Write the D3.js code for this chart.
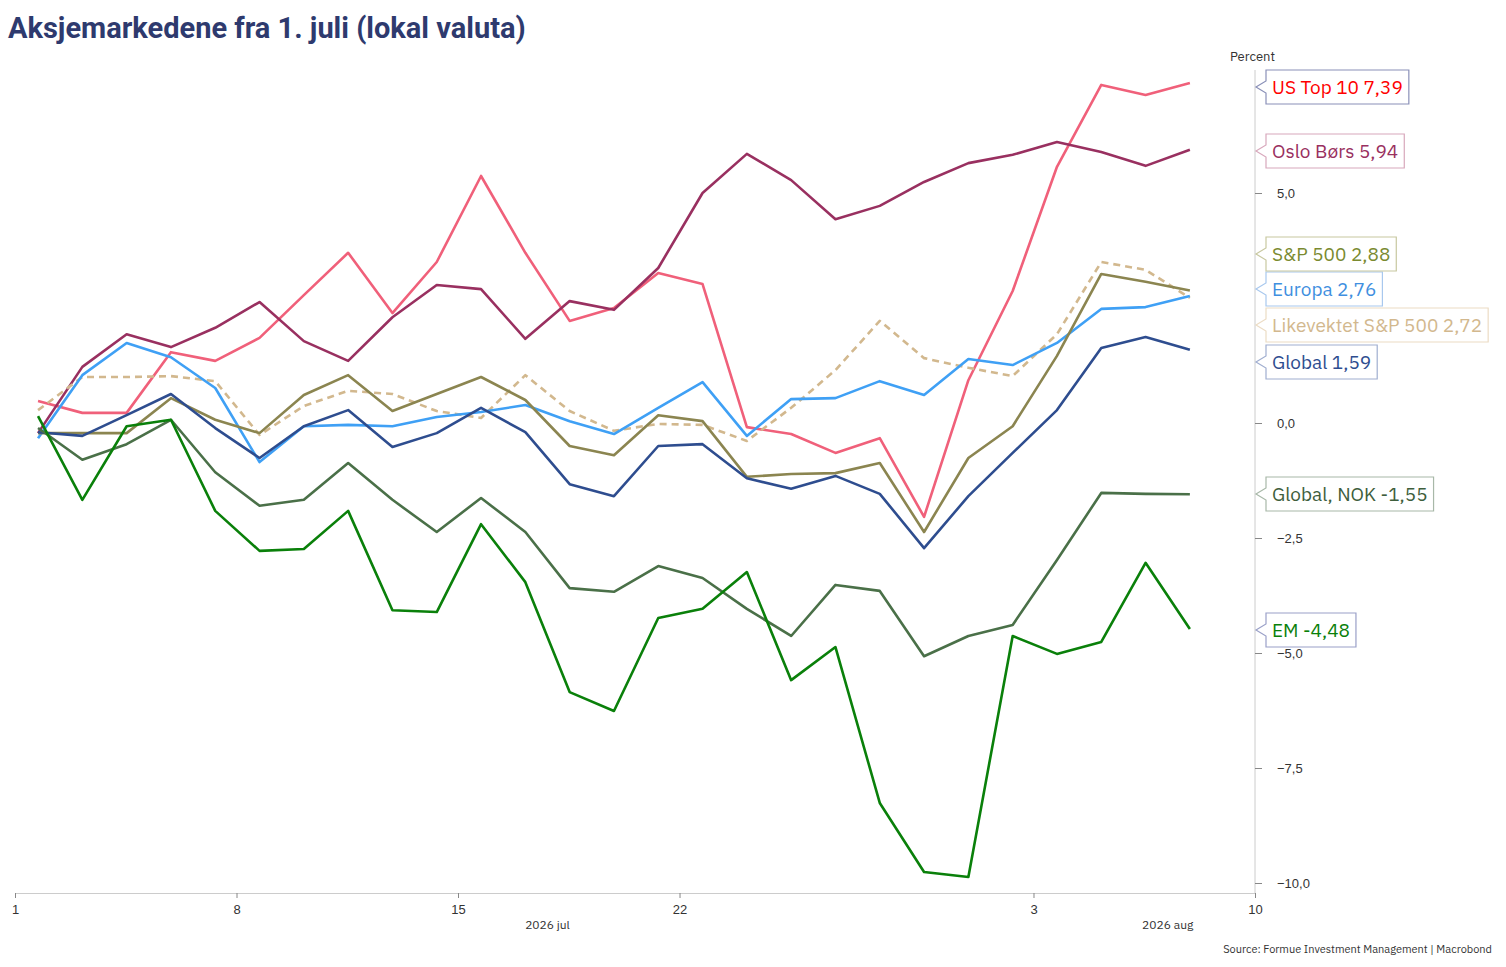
<!DOCTYPE html>
<meta charset="utf-8">
<title>Aksjemarkedene fra 1. juli</title>
<style>
    body { margin: 0; background: #fff; font-family: "IBM Plex Sans", Roboto, sans-serif; }
    svg { display: block; }
    .tick text { font-size: 13px; fill: #333; }
</style>
<body>
<svg width="1506" height="967"></svg>
<script src="https://d3js.org/d3.v7.min.js"></script>
<script>
    // trading-day index 0..26 (1. juli .. 7. aug)
    const usTop10 = [0.48, 0.22, 0.22, 1.54, 1.35, 1.85, 2.78, 3.70, 2.39, 3.50, 5.37, 3.70, 2.22, 2.50, 3.26, 3.02, -0.09, -0.24, -0.65, -0.33, -2.04, 0.93, 2.87, 5.57, 7.35, 7.13, 7.39];
    const osloBors = [-0.22, 1.22, 1.93, 1.65, 2.07, 2.63, 1.78, 1.35, 2.30, 3.0, 2.91, 1.83, 2.65, 2.46, 3.37, 5.0, 5.85, 5.28, 4.43, 4.72, 5.24, 5.65, 5.83, 6.11, 5.89, 5.59, 5.94];
    const sp500 = [-0.22, -0.22, -0.22, 0.54, 0.07, -0.22, 0.61, 1.04, 0.26, 0.63, 1.0, 0.5, -0.5, -0.7, 0.17, 0.04, -1.17, -1.11, -1.09, -0.87, -2.37, -0.76, -0.07, 1.46, 3.24, 3.07, 2.88];
    const europa = [-0.33, 1.04, 1.74, 1.43, 0.76, -0.85, -0.07, -0.04, -0.07, 0.13, 0.24, 0.39, 0.04, -0.24, 0.33, 0.89, -0.28, 0.52, 0.54, 0.91, 0.61, 1.39, 1.26, 1.74, 2.48, 2.52, 2.76];
    const likevektet = [0.28, 1.0, 1.0, 1.02, 0.91, -0.26, 0.37, 0.70, 0.63, 0.26, 0.11, 1.04, 0.26, -0.17, -0.02, -0.04, -0.39, 0.33, 1.15, 2.22, 1.41, 1.2, 1.02, 1.93, 3.5, 3.33, 2.72];
    const global = [-0.2, -0.28, 0.17, 0.63, -0.11, -0.76, -0.07, 0.28, -0.52, -0.22, 0.33, -0.2, -1.33, -1.59, -0.5, -0.46, -1.2, -1.43, -1.15, -1.54, -2.72, -1.59, -0.65, 0.28, 1.63, 1.87, 1.59];
    const globalNok = [-0.11, -0.8, -0.46, 0.07, -1.07, -1.8, -1.67, -0.87, -1.67, -2.37, -1.63, -2.37, -3.59, -3.67, -3.11, -3.37, -4.04, -4.63, -3.52, -3.65, -5.07, -4.63, -4.39, -2.98, -1.52, -1.54, -1.55];
    const em = [0.15, -1.67, -0.07, 0.07, -1.91, -2.78, -2.74, -1.91, -4.07, -4.11, -2.2, -3.46, -5.85, -6.26, -4.24, -4.04, -3.24, -5.59, -4.87, -8.26, -9.76, -9.87, -4.63, -5.02, -4.76, -3.04, -4.48];

    const xTickPos = [-0.52, 4.48, 9.48, 14.48, 22.47, 27.47];
    const xTickLabels = ["1", "8", "15", "22", "3", "10"];
    const yTicks = [-10, -7.5, -5, -2.5, 0, 5];

    const series = [
        { name: "US Top 10", values: usTop10, color: "#f0607a", text: "#ff0000", border: "#8a90b8", last: "7,39", ly: 87 },
        { name: "Oslo Børs", values: osloBors, color: "#993060", text: "#993060", border: "#d8a8bc", last: "5,94", ly: 151 },
        { name: "Likevektet S&P 500", values: likevektet, color: "#d2b88e", text: "#d2b88e", border: "#ecdcc4", last: "2,72", ly: 325, dash: "7,5" },
        { name: "Europa", values: europa, color: "#3fa0f5", text: "#3f8fe0", border: "#a8c8ee", last: "2,76", ly: 289 },
        { name: "S&P 500", values: sp500, color: "#8b8550", text: "#7a8a30", border: "#c8c8a0", last: "2,88", ly: 254 },
        { name: "Global", values: global, color: "#2e4d8f", text: "#2e4d8f", border: "#a0aed0", last: "1,59", ly: 362 },
        { name: "Global, NOK", values: globalNok, color: "#4a7048", text: "#3e5e3c", border: "#a8b8a8", last: "-1,55", ly: 494 },
        { name: "EM", values: em, color: "#0a800a", text: "#0a800a", border: "#9aa0c8", last: "-4,48", ly: 630 }
    ];

    const svg = d3.select("svg");
    const x = d3.scaleLinear().domain([-0.52, 27.47]).range([15, 1255]);
    const y = d3.scaleLinear().domain([-10, 0]).range([883, 423]);
    const fmt = d => d3.format(".1f")(d).replace(".", ",");

    svg.append("text").attr("x", 8).attr("y", 38)
        .attr("font-size", 29).attr("font-weight", "bold").attr("fill", "#2e3a6e")
        .attr("font-family", "Roboto, sans-serif")
        .text("Aksjemarkedene fra 1. juli (lokal valuta)");

    // axes
    const xAxis = svg.append("g").attr("transform", "translate(0,893)")
        .call(d3.axisBottom(x).tickValues(xTickPos).tickFormat((d, i) => xTickLabels[i]).tickSize(5));
    xAxis.select(".domain").attr("stroke", "#ccc");
    xAxis.selectAll(".tick line").attr("stroke", "#888");
    xAxis.selectAll("text").attr("dy", "1em");

    const yAxis = svg.append("g").attr("transform", "translate(1255,0)")
        .call(d3.axisRight(y).tickValues(yTicks).tickFormat(fmt).tickSize(7).tickPadding(15));
    yAxis.select(".domain").attr("stroke", "#ccc").attr("d", "M0,70V893");
    yAxis.selectAll(".tick line").attr("stroke", "#888");

    svg.append("text").attr("x", 1230).attr("y", 61).attr("font-size", 13).attr("fill", "#333").text("Percent");
    svg.append("text").attr("x", x(11.5)).attr("y", 929).attr("text-anchor", "middle").attr("font-size", 12).attr("fill", "#333").text("2026 jul");
    svg.append("text").attr("x", x(25.5)).attr("y", 929).attr("text-anchor", "middle").attr("font-size", 12).attr("fill", "#333").text("2026 aug");
    svg.append("text").attr("x", 1492).attr("y", 953).attr("text-anchor", "end").attr("font-size", 11).attr("fill", "#333")
        .text("Source: Formue Investment Management | Macrobond");

    const line = d3.line().x((d, i) => x(i)).y(d => y(d));
    svg.append("g").selectAll("path").data(series).join("path")
        .attr("d", d => line(d.values))
        .attr("fill", "none")
        .attr("stroke", d => d.color)
        .attr("stroke-width", 2.6)
        .attr("stroke-dasharray", d => d.dash || null)
        .attr("stroke-linejoin", "round");

    // end labels
    const lab = svg.append("g").selectAll("g").data(series).join("g")
        .attr("transform", d => `translate(1266,${d.ly})`);
    lab.append("text").attr("x", 6).attr("dy", "0.35em").attr("font-size", 19)
        .attr("fill", d => d.text).text(d => d.name + " " + d.last);
    lab.each(function (d) {
        const g = d3.select(this);
        const w = g.select("text").node().getComputedTextLength() + 12;
        g.insert("path", "text")
            .attr("d", `M0,-17H${w}V17H0V6L-10,0L0,-6Z`)
            .attr("fill", "#fff").attr("stroke", d.border).attr("stroke-width", 1.2);
    });
</script>
</body>
</html>
